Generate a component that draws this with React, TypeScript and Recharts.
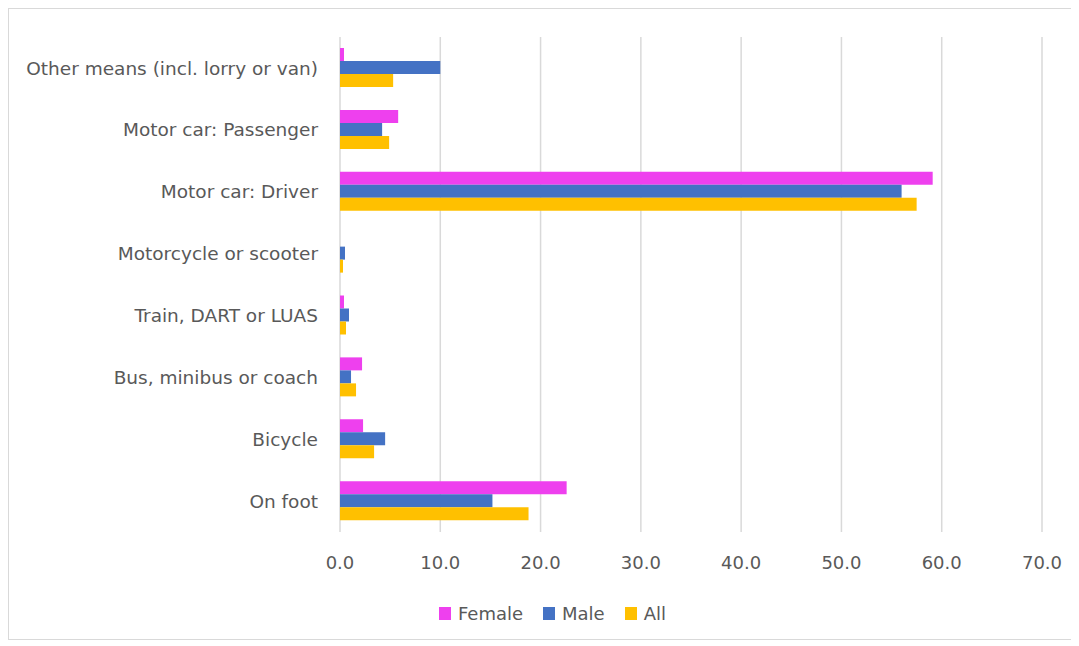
import React from 'react';
import { BarChart, Bar, XAxis, YAxis, CartesianGrid, Legend } from 'recharts';

const categories = [
  'Other means (incl. lorry or van)',
  'Motor car: Passenger',
  'Motor car: Driver',
  'Motorcycle or scooter',
  'Train, DART or LUAS',
  'Bus, minibus or coach',
  'Bicycle',
  'On foot',
];

const female = [0.4, 5.8, 59.1, 0, 0.4, 2.2, 2.3, 22.6];
const male = [10.0, 4.2, 56.0, 0.5, 0.9, 1.1, 4.5, 15.2];
const all = [5.3, 4.9, 57.5, 0.3, 0.6, 1.6, 3.4, 18.8];

const xTicks = [0, 10, 20, 30, 40, 50, 60, 70];

const series = [
  { key: 'Female', color: '#EE40EE' },
  { key: 'Male', color: '#4472C4' },
  { key: 'All', color: '#FFC000' },
];

const data = categories.map((name, i) => ({
  name,
  Female: female[i],
  Male: male[i],
  All: all[i],
}));

const FONT = '"DejaVu Sans", sans-serif';
const TEXT = '#595959';

const LegendBox = () => (
  <div
    style={{
      display: 'flex',
      justifyContent: 'center',
      gap: 20,
      paddingLeft: 54,
      fontFamily: FONT,
      fontSize: 18,
      color: TEXT,
      height: 24,
      alignItems: 'center',
    }}
  >
    {series.map((s) => (
      <div key={s.key} style={{ display: 'flex', alignItems: 'center', gap: 7 }}>
        <span style={{ display: 'inline-block', width: 12, height: 13, background: s.color }} />
        <span>{s.key}</span>
      </div>
    ))}
  </div>
);

export default function App() {
  return (
    <div
      style={{
        width: 1071,
        height: 632,
        border: '1px solid #d9d9d9',
        background: '#fff',
        fontFamily: FONT,
        boxSizing: 'border-box',
      }}
    >
      <BarChart
        width={1069}
        height={630}
        data={data}
        layout="vertical"
        barGap={0}
        barCategoryGap="18%"
        margin={{ top: 28, right: 36, bottom: 14, left: 0 }}
      >
        <CartesianGrid horizontal={false} stroke="#d9d9d9" strokeWidth={1.5} />
        <XAxis
          type="number"
          domain={[0, 70]}
          ticks={xTicks}
          tickFormatter={(v: number) => v.toFixed(1)}
          axisLine={false}
          tickLine={false}
          tickMargin={18}
          tick={{ fill: TEXT, fontSize: 18, fontFamily: FONT }}
          height={69}
        />
        <YAxis
          type="category"
          dataKey="name"
          width={331}
          axisLine={false}
          tickLine={false}
          tickMargin={16}
          tick={{ fill: TEXT, fontSize: 18.5, fontFamily: FONT }}
        />
        <Legend verticalAlign="bottom" height={24} content={<LegendBox />} />
        {series.map((s) => (
          <Bar key={s.key} dataKey={s.key} fill={s.color} barSize={13} isAnimationActive={false} />
        ))}
      </BarChart>
    </div>
  );
}
